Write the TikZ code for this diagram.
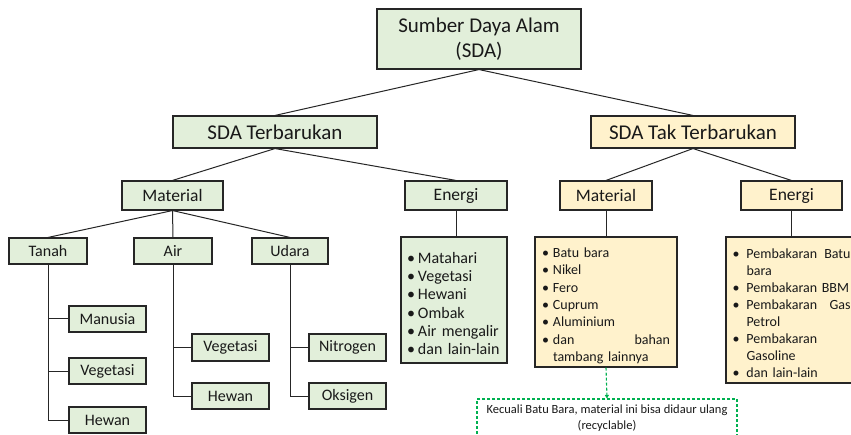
\documentclass[tikz,border=0pt]{standalone}
\usepackage{fontspec}
\setmainfont{Carlito}
\usetikzlibrary{arrows.meta}
\definecolor{gfill}{HTML}{E2EFDA}
\definecolor{yfill}{HTML}{FFF2CC}
\definecolor{edge}{HTML}{262626}
\definecolor{ngreen}{HTML}{00B050}
\newlength\bind
\newcommand\bitem{\par\noindent\hangindent=\bind\hangafter=1\makebox[\bind][l]{\textbullet}}
\tikzset{
  box/.style={draw=edge, line width=1.1pt, inner sep=0pt, text=black!90, align=center},
  gbox/.style={box, fill=gfill},
  ybox/.style={box, fill=yfill},
  lvlA/.style={font={\fontsize{21}{25}\selectfont}},
  lvlB/.style={font={\fontsize{17.5}{20}\selectfont}, minimum height=29pt},
  lvlC/.style={font={\fontsize{16}{18}\selectfont}, minimum height=26pt},
  conn/.style={draw=edge, line width=1pt},
  lst/.style={align=left, inner xsep=0pt},
  notebox/.style={line width=1.1pt, dash pattern=on 3pt off 2pt},
}
\begin{document}
\begin{tikzpicture}[x=1pt, y=-1pt]
\useasboundingbox (0,0) rectangle (851,435);
\fill[white] (0,0) rectangle (851,435);
\clip (0,0) rectangle (851,435);

% top levels
\node[gbox, lvlA, minimum width=204pt, minimum height=60pt] (root) at (479,39) {Sumber Daya Alam\\(SDA)};
\node[gbox, lvlA, minimum width=204pt, minimum height=32pt] (ren) at (275,132) {SDA Terbarukan};
\node[ybox, lvlA, minimum width=204pt, minimum height=32pt] (nren) at (693,132) {SDA Tak Terbarukan};

\node[gbox, lvlB, minimum width=101pt] (matL) at (172.5,195.5) {Material};
\node[gbox, lvlB, minimum width=102pt] (enL) at (456,195.5) {Energi};
\node[ybox, lvlB, minimum width=92pt] (matR) at (606,195.5) {Material};
\node[ybox, lvlB, minimum width=101pt] (enR) at (791.5,195.5) {Energi};

% third level (renewable material)
\node[gbox, lvlC, minimum width=78pt] (tanah) at (48,251) {Tanah};
\node[gbox, lvlC, minimum width=78pt] (air) at (173,251) {Air};
\node[gbox, lvlC, minimum width=76pt] (udara) at (290,251) {Udara};

\node[gbox, lvlC, minimum width=77pt] (manusia) at (107.5,319) {Manusia};
\node[gbox, lvlC, minimum width=77pt] (vegT) at (107.5,371) {Vegetasi};
\node[gbox, lvlC, minimum width=77pt] (hewT) at (107.5,420) {Hewan};

\node[gbox, lvlC, minimum width=77pt, minimum height=27pt] (vegA) at (230.5,347.5) {Vegetasi};
\node[gbox, lvlC, minimum width=77pt] (hewA) at (230.5,396) {Hewan};

\node[gbox, lvlC, minimum width=77pt, minimum height=27pt] (nitro) at (347.5,347.5) {Nitrogen};
\node[gbox, lvlC, minimum width=77pt] (oks) at (347.5,396) {Oksigen};

% lists
\node[gbox, lst, minimum width=106pt, minimum height=126pt, text width=94pt,
      font={\fontsize{16}{18.3}\selectfont}] (listEL) at (454,300)
  {\setlength\bind{11pt}%
   \bitem Matahari\bitem Vegetasi\bitem Hewani\bitem Ombak\bitem Air mengalir\bitem dan lain-lain\par};

\node[ybox, lst, minimum width=142pt, minimum height=130pt, text width=128pt,
      font={\fontsize{14}{17.3}\selectfont}] (listMR) at (606,302)
  {\setlength\bind{11pt}%
   \bitem Batu bara\bitem Nikel\bitem Fero\bitem Cuprum\bitem Aluminium\bitem dan\hfill bahan\break tambang lainnya\par};

\node[ybox, lst, minimum width=131pt, minimum height=146pt, text width=118pt,
      font={\fontsize{14}{17}\selectfont}] (listER) at (791.5,310)
  {\setlength\bind{14pt}%
   \bitem Pembakaran\hfill Batu\break bara\bitem Pembakaran BBM\bitem Pembakaran\hfill Gas\break Petrol\bitem Pembakaran\break Gasoline\bitem dan lain-lain\par};

% note
\node[notebox, minimum width=260pt, minimum height=38pt, inner sep=0pt, align=center,
      font={\fontsize{12.5}{16}\selectfont}, text=black!90, draw=ngreen] (note) at (607,418)
  {Kecuali Batu Bara, material ini bisa didaur ulang\\(recyclable)};

% connectors
\draw[conn] (root.south) -- (ren.north);
\draw[conn] (root.south) -- (nren.north);
\draw[conn] (ren.south) -- (matL.north);
\draw[conn] (ren.south) -- (enL.north);
\draw[conn] (nren.south) -- (matR.north);
\draw[conn] (nren.south) -- (enR.north);
\draw[conn] (matL.south) -- (tanah.north);
\draw[conn] (matL.south) -- (air.north);
\draw[conn] (matL.south) -- (udara.north);
\draw[conn] (enL.south) -- (enL.south |- listEL.north);
\draw[conn] (matR.south) -- (listMR.north);
\draw[conn] (enR.south) -- (listER.north);

\draw[conn] (tanah.south) |- (hewT.west);
\draw[conn] (tanah.south |- manusia.west) -- (manusia.west);
\draw[conn] (tanah.south |- vegT.west) -- (vegT.west);
\draw[conn] (air.south) |- (hewA.west);
\draw[conn] (air.south |- vegA.west) -- (vegA.west);
\draw[conn] (udara.south) |- (oks.west);
\draw[conn] (udara.south |- nitro.west) -- (nitro.west);

\draw[notebox, draw=ngreen, -{Triangle[length=3.5pt, width=4pt]}] (listMR.south) -- (note.north);
\end{tikzpicture}
\end{document}
